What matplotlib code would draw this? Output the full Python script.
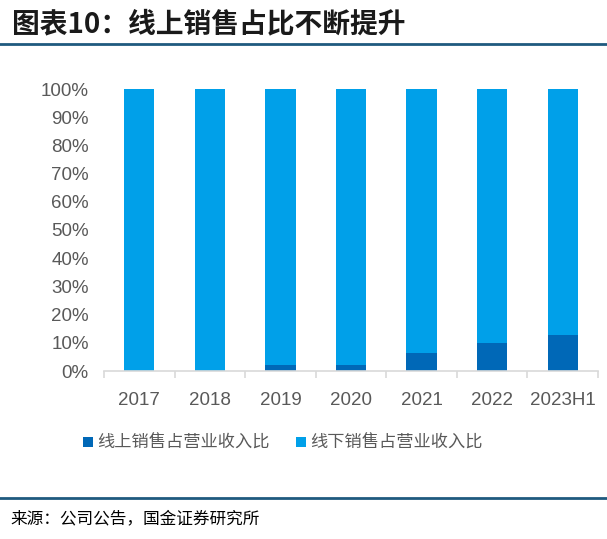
import matplotlib.pyplot as plt
from matplotlib.lines import Line2D
import numpy as np

plt.rcParams['font.family'] = ['Noto Sans CJK SC', 'DejaVu Sans']

years = ['2017', '2018', '2019', '2020', '2021', '2022', '2023H1']
online = [0.1, 0.1, 2.1, 2.0, 6.3, 9.8, 12.6]
offline = [100 - v for v in online]

dark_blue = '#0068B7'
light_blue = '#00A0E9'
line_color = '#1F5A7F'

fig = plt.figure(figsize=(6.07, 5.39), dpi=100)
ax = fig.add_axes([104 / 607, 1 - 371 / 539, 494 / 607, 282 / 539])

x = np.arange(len(years))
ax.bar(x, online, width=0.43, color=dark_blue, label='线上销售占营业收入比')
ax.bar(x, offline, width=0.43, bottom=online, color=light_blue, label='线下销售占营业收入比')

ax.set_xlim(-0.5, len(years) - 0.5)
ax.set_ylim(0, 100)
ax.set_yticks(range(0, 101, 10))
ax.set_yticklabels([f'{v}%' for v in range(0, 101, 10)], family='Liberation Sans')
ax.set_xticks(x)
ax.set_xticklabels(years, family='Liberation Sans')
ax.set_xticks(np.arange(-0.5, len(years)), minor=True)

for s in ['top', 'right', 'left']:
    ax.spines[s].set_visible(False)
ax.spines['bottom'].set_color('#D9D9D9')
ax.spines['bottom'].set_linewidth(1.2)
ax.tick_params(axis='y', length=0, labelsize=13.5, labelcolor='#595959', pad=11)
ax.tick_params(axis='x', which='major', length=0, labelsize=13.5, labelcolor='#595959', pad=15)
ax.tick_params(axis='x', which='minor', length=5, width=1.2, color='#D9D9D9', direction='out')

leg = fig.legend(loc='center', bbox_to_anchor=(0.466, 0.178), ncol=2, frameon=False,
                 fontsize=12.4, handlelength=0.6, handleheight=0.6, handletextpad=0.25,
                 columnspacing=1.5)
for t in leg.get_texts():
    t.set_color('#595959')

fig.text(12 / 607, 1 - 24 / 539, '图表10：线上销售占比不断提升', fontsize=20, fontweight='bold',
         ha='left', va='center', color='#1a1a1a')
fig.add_artist(Line2D([0, 1], [1 - 44 / 539, 1 - 44 / 539], color=line_color, lw=2))
fig.add_artist(Line2D([0, 1], [1 - 498 / 539, 1 - 498 / 539], color=line_color, lw=2))
fig.text(10 / 607, 1 - 519 / 539, '来源：公司公告，国金证券研究所', fontsize=12,
         ha='left', va='center', color='black')

fig.savefig('out.png', dpi=100)
